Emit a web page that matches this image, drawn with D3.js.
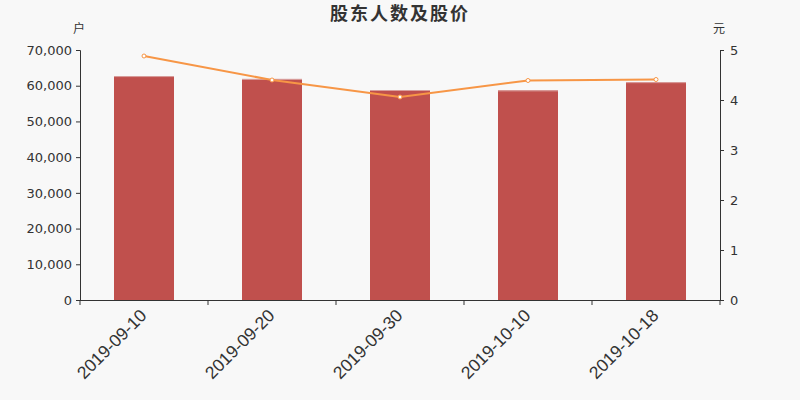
<!DOCTYPE html>
<html><head><meta charset="utf-8">
<script src="https://cdn.jsdelivr.net/npm/d3@7"></script>
<style>body{margin:0;background:#f8f8f8}svg{display:block;font-family:"DejaVu Sans","Noto Sans CJK SC",sans-serif}</style>
</head><body><svg id="c" width="800" height="400"></svg>
<script>
const categories = ["2019-09-10","2019-09-20","2019-09-30","2019-10-10","2019-10-18"];
const holders = [62700, 61900, 58800, 58700, 61000];
const prices = [4.88, 4.40, 4.06, 4.39, 4.41];
const leftTicks = [0,10000,20000,30000,40000,50000,60000,70000];
const rightTicks = [0,1,2,3,4,5];
const title = "股东人数及股价";

const svg = d3.select("#c");
svg.append("rect").attr("width",800).attr("height",400).attr("fill","#f8f8f8");
const L=80,R=720,T=50,B=300;
const x = d3.scaleBand().domain(categories).range([L,R]);
const yL = d3.scaleLinear().domain([0,70000]).range([B,T]);
const yR = d3.scaleLinear().domain([0,5]).range([B,T]);
const bw = 60;

svg.append("text").attr("x",400).attr("y",20).attr("text-anchor","middle")
  .attr("font-size",18).attr("font-weight","bold").attr("fill","#333").attr("letter-spacing",2).text(title);
svg.append("text").attr("x",79).attr("y",33).attr("text-anchor","middle").attr("font-size",12).attr("fill","#333").text("户");
svg.append("text").attr("x",719).attr("y",33).attr("text-anchor","middle").attr("font-size",12).attr("fill","#333").text("元");

svg.selectAll(".bar").data(holders).join("rect")
  .attr("x",(d,i)=>x(categories[i])+x.bandwidth()/2-bw/2).attr("width",bw)
  .attr("y",d=>yL(d)).attr("height",d=>B-yL(d)).attr("fill","#c0504d");
svg.selectAll(".bartop").data(holders).join("rect")
  .attr("x",(d,i)=>x(categories[i])+x.bandwidth()/2-bw/2).attr("width",bw)
  .attr("y",d=>yL(d)).attr("height",1).attr("fill","#d9a09e");

const gl = svg.append("g").attr("transform",`translate(${L},0)`)
  .call(d3.axisLeft(yL).tickValues(leftTicks).tickFormat(d3.format(",")).tickSize(4).tickPadding(4));
const gr = svg.append("g").attr("transform",`translate(${R},0)`)
  .call(d3.axisRight(yR).tickValues(rightTicks).tickFormat(d3.format("d")).tickSize(4).tickPadding(6));
const gx = svg.append("g").attr("transform",`translate(0,${B})`)
  .call(d3.axisBottom(x).tickSize(0).tickFormat(""));
gx.selectAll(".bt").data(d3.range(categories.length+1)).join("line")
  .attr("x1",i=>L+i*x.step()).attr("x2",i=>L+i*x.step()).attr("y1",0).attr("y2",5).attr("stroke","#333");
gx.selectAll(".lbl").data(categories).join("text")
  .attr("transform",d=>`translate(${x(d)+x.bandwidth()/2-5},${8}) rotate(-45)`)
  .attr("text-anchor","end").attr("font-size",17.5).attr("fill","#333").attr("dy","0.7em").text(d=>d);
[gl,gr,gx].forEach(g=>{g.select(".domain").attr("stroke","#333");g.selectAll(".tick line").attr("stroke","#333");
  g.selectAll(".tick text").attr("font-size",13).attr("fill","#333").attr("font-family","DejaVu Sans");});
gx.select(".domain").attr("d",`M${L},0.5H${R}`);

const line = d3.line().x((d,i)=>x(categories[i])+x.bandwidth()/2).y(d=>yR(d));
svg.append("path").datum(prices).attr("d",line).attr("fill","none").attr("stroke","#f79646").attr("stroke-width",2);
svg.selectAll(".pt").data(prices).join("circle")
  .attr("cx",(d,i)=>x(categories[i])+x.bandwidth()/2).attr("cy",d=>yR(d)).attr("r",2)
  .attr("fill","#fff").attr("stroke","#f79646").attr("stroke-width",1);
</script></body></html>
